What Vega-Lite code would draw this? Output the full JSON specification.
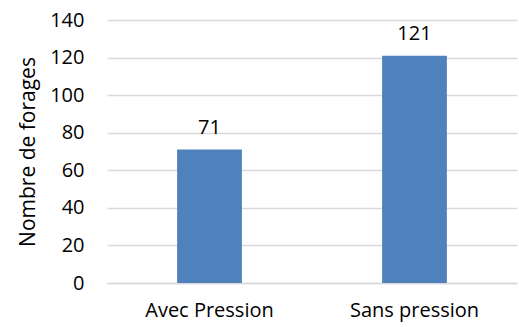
{
  "$schema": "https://vega.github.io/schema/vega-lite/v6.json",
  "width": 410,
  "height": 263,
  "autosize": {"type": "none"},
  "padding": {"left": 107, "top": 20, "right": 2, "bottom": 44},
  "background": "white",
  "config": {
    "view": {"stroke": null},
    "font": "Open Sans",
    "axis": {"labelFont": "Open Sans", "titleFont": "Open Sans", "labelColor": "#000000", "titleColor": "#000000"}
  },
  "data": {
    "values": [
      {"categorie": "Avec Pression", "forages": 71},
      {"categorie": "Sans pression", "forages": 121}
    ]
  },
  "encoding": {
    "x": {
      "field": "categorie",
      "type": "nominal",
      "sort": null,
      "scale": {"paddingInner": 0.684, "paddingOuter": 0.342},
      "axis": {
        "title": null,
        "labelAngle": 0,
        "labelFontSize": 20,
        "labelPadding": 17,
        "ticks": false,
        "domainColor": "#d9d9d9",
        "domainWidth": 1.3
      }
    },
    "y": {
      "field": "forages",
      "type": "quantitative",
      "scale": {"domain": [0, 140], "nice": false},
      "axis": {
        "title": "Nombre de forages",
        "titleFontSize": 21,
        "titleFontWeight": "normal",
        "titlePadding": 11,
        "values": [0, 20, 40, 60, 80, 100, 120, 140],
        "labelFontSize": 20,
        "labelPadding": 23,
        "ticks": false,
        "domain": false,
        "gridColor": "#d9d9d9",
        "gridWidth": 1.3
      }
    }
  },
  "layer": [
    {"mark": {"type": "bar", "color": "#4f81bd"}},
    {
      "mark": {"type": "text", "baseline": "bottom", "dy": -12, "fontSize": 20, "color": "#000000"},
      "encoding": {"text": {"field": "forages", "type": "quantitative"}}
    }
  ]
}
